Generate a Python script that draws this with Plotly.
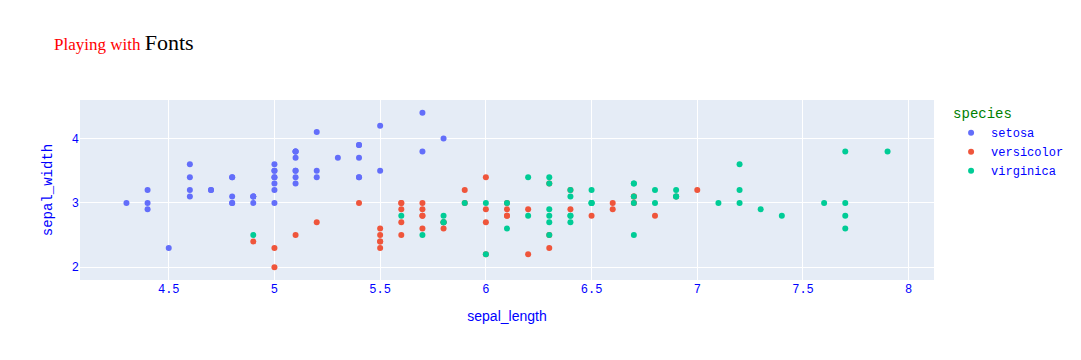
import plotly.graph_objects as go

species_names = ["setosa", "versicolor", "virginica"]
colors = ["#636efa", "#EF553B", "#00cc96"]

setosa_sepal_length = [5.1, 4.9, 4.7, 4.6, 5.0, 5.4, 4.6, 5.0, 4.4, 4.9, 5.4, 4.8, 4.8, 4.3, 5.8, 5.7, 5.4, 5.1, 5.7, 5.1,
                       5.4, 5.1, 4.6, 5.1, 4.8, 5.0, 5.0, 5.2, 5.2, 4.7, 4.8, 5.4, 5.2, 5.5, 4.9, 5.0, 5.5, 4.9, 4.4, 5.1,
                       5.0, 4.5, 4.4, 5.0, 5.1, 4.8, 5.1, 4.6, 5.3, 5.0]
setosa_sepal_width = [3.5, 3.0, 3.2, 3.1, 3.6, 3.9, 3.4, 3.4, 2.9, 3.1, 3.7, 3.4, 3.0, 3.0, 4.0, 4.4, 3.9, 3.5, 3.8, 3.8,
                      3.4, 3.7, 3.6, 3.3, 3.4, 3.0, 3.4, 3.5, 3.4, 3.2, 3.1, 3.4, 4.1, 4.2, 3.1, 3.2, 3.5, 3.1, 3.0, 3.4,
                      3.5, 2.3, 3.2, 3.5, 3.8, 3.0, 3.8, 3.2, 3.7, 3.3]

versicolor_sepal_length = [7.0, 6.4, 6.9, 5.5, 6.5, 5.7, 6.3, 4.9, 6.6, 5.2, 5.0, 5.9, 6.0, 6.1, 5.6, 6.7, 5.6, 5.8, 6.2, 5.6,
                           5.9, 6.1, 6.3, 6.1, 6.4, 6.6, 6.8, 6.7, 6.0, 5.7, 5.5, 5.5, 5.8, 6.0, 5.4, 6.0, 6.7, 6.3, 5.6, 5.5,
                           5.5, 6.1, 5.8, 5.0, 5.6, 5.7, 5.7, 6.2, 5.1, 5.7]
versicolor_sepal_width = [3.2, 3.2, 3.1, 2.3, 2.8, 2.8, 3.3, 2.4, 2.9, 2.7, 2.0, 3.0, 2.2, 2.9, 2.9, 3.1, 3.0, 2.7, 2.2, 2.5,
                          3.2, 2.8, 2.5, 2.8, 2.9, 3.0, 2.8, 3.0, 2.9, 2.6, 2.4, 2.4, 2.7, 2.7, 3.0, 3.4, 3.1, 2.3, 3.0, 2.5,
                          2.6, 3.0, 2.6, 2.3, 2.7, 3.0, 2.9, 2.9, 2.5, 2.8]

virginica_sepal_length = [6.3, 5.8, 7.1, 6.3, 6.5, 7.6, 4.9, 7.3, 6.7, 7.2, 6.5, 6.4, 6.8, 5.7, 5.8, 6.4, 6.5, 7.7, 7.7, 6.0,
                          6.9, 5.6, 7.7, 6.3, 6.7, 7.2, 6.2, 6.1, 6.4, 7.2, 7.4, 7.9, 6.4, 6.3, 6.1, 7.7, 6.3, 6.4, 6.0, 6.9,
                          6.7, 6.9, 5.8, 6.8, 6.7, 6.7, 6.3, 6.5, 6.2, 5.9]
virginica_sepal_width = [3.3, 2.7, 3.0, 2.9, 3.0, 3.0, 2.5, 2.9, 2.5, 3.6, 3.2, 2.7, 3.0, 2.5, 2.8, 3.2, 3.0, 3.8, 2.6, 2.2,
                         3.2, 2.8, 2.8, 2.7, 3.3, 3.2, 2.8, 3.0, 2.8, 3.0, 2.8, 3.8, 2.8, 2.8, 2.6, 3.0, 3.4, 3.1, 3.0, 3.1,
                         3.1, 3.1, 2.7, 3.2, 3.3, 3.0, 2.5, 3.0, 3.4, 3.0]

xs = [setosa_sepal_length, versicolor_sepal_length, virginica_sepal_length]
ys = [setosa_sepal_width, versicolor_sepal_width, virginica_sepal_width]

fig = go.Figure()
for name, color, x, y in zip(species_names, colors, xs, ys):
    fig.add_trace(go.Scatter(x=x, y=y, mode="markers", name=name,
                             marker=dict(color=color, size=6)))

fig.update_layout(
    width=1081, height=360,
    template="plotly",
    font=dict(family="Liberation Mono, Courier New, monospace", color="blue"),
    title=dict(
        text="Playing with <span style='font-size:22px;color:black'>Fonts</span>",
        font=dict(family="Liberation Serif, Times New Roman, serif", color="red"),
    ),
    legend=dict(title=dict(text="species", font=dict(color="green"))),
    xaxis=dict(title=dict(text="sepal_length", font=dict(family="Liberation Sans, Arial, sans-serif"))),
    yaxis=dict(title=dict(text="sepal_width")),
)

fig.write_html("out.html", config={"displayModeBar": False},
               post_script="document.body.style.margin='0';")
